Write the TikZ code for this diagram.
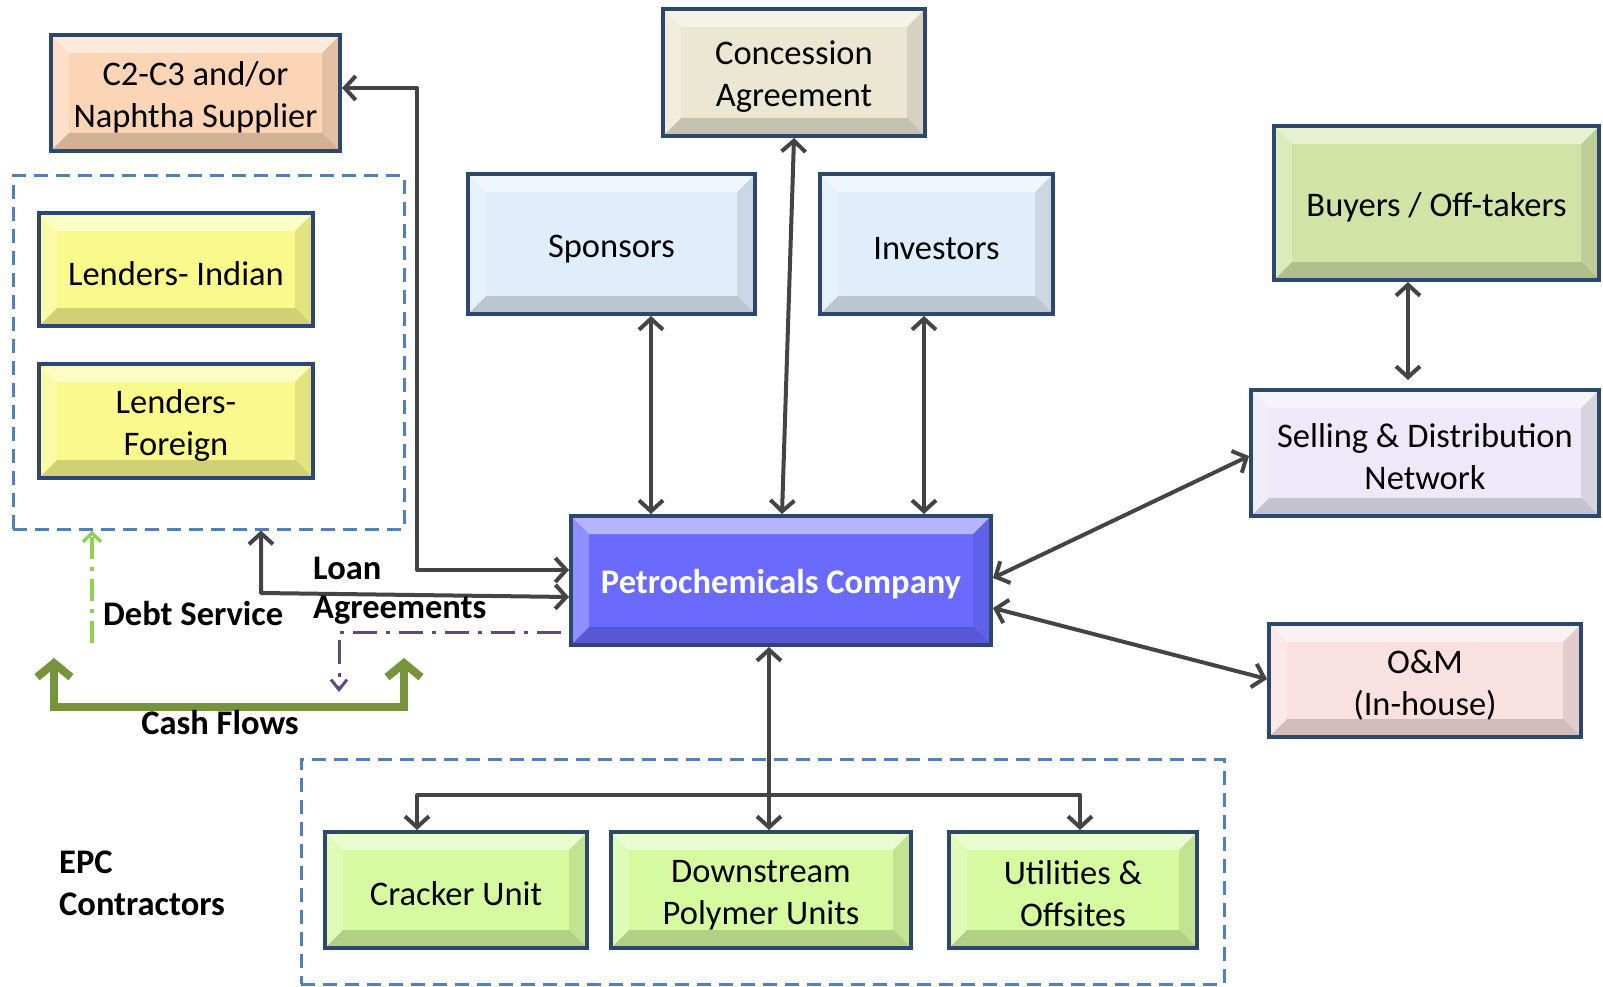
\documentclass[tikz,border=0pt]{standalone}
\usepackage{fontspec}
\setmainfont{Carlito}
\usetikzlibrary{arrows.meta,calc}
\definecolor{bord}{RGB}{44,72,108}
\definecolor{arrowgray}{RGB}{68,68,68}
\definecolor{peach}{RGB}{251,213,181}
\definecolor{tan}{RGB}{235,231,210}
\definecolor{ltblue}{RGB}{224,237,250}
\definecolor{olivelt}{RGB}{210,227,166}
\definecolor{lavender}{RGB}{237,233,248}
\definecolor{pinklt}{RGB}{250,225,225}
\definecolor{yel}{RGB}{249,249,140}
\definecolor{limegr}{RGB}{214,250,160}
\definecolor{petroblue}{RGB}{106,106,255}
\definecolor{grpblue}{RGB}{79,129,189}
\definecolor{cashgr}{RGB}{119,147,60}
\definecolor{debtgr}{RGB}{146,208,80}
\definecolor{loanpur}{RGB}{96,74,123}
\newcommand{\strt}{\rule{0pt}{32pt}}
\tikzset{
  bb/.tip={Straight Barb[length=11pt,width=24pt]},
  bevelfx/.style={path picture={
    \coordinate (pA) at (path picture bounding box.north west);
    \coordinate (pB) at (path picture bounding box.north east);
    \coordinate (pC) at (path picture bounding box.south east);
    \coordinate (pD) at (path picture bounding box.south west);
    \fill[white,opacity=.5] (pA) -- (pB) -- ([shift={(-18pt,-18pt)}]pB) -- ([shift={(18pt,-18pt)}]pA) -- cycle;
    \fill[white,opacity=.25] (pA) -- (pD) -- ([shift={(18pt,18pt)}]pD) -- ([shift={(18pt,-18pt)}]pA) -- cycle;
    \fill[black,opacity=.16] (pD) -- (pC) -- ([shift={(-18pt,18pt)}]pC) -- ([shift={(18pt,18pt)}]pD) -- cycle;
    \fill[black,opacity=.09] (pB) -- (pC) -- ([shift={(-18pt,18pt)}]pC) -- ([shift={(-18pt,-18pt)}]pB) -- cycle;
  }},
  box/.style={draw=bord, line width=4pt, rectangle, inner sep=0pt, align=center,
    font=\fontsize{34.5}{42}\selectfont, text=black, bevelfx},
  grp/.style={draw=grpblue, line width=3pt, dash pattern=on 14pt off 8pt, rectangle, inner sep=0pt},
  conn/.style={draw=arrowgray, line width=4pt, line join=round},
  lbl/.style={font=\fontsize{34.5}{42}\selectfont\bfseries, inner sep=0pt},
}
\begin{document}
\begin{tikzpicture}[x=1pt,y=-1pt]
\useasboundingbox (0,0) rectangle (1603,987);
% group boxes
\node[grp, minimum width=391pt, minimum height=353pt] (lend) at (208.5,352.5) {};
\node[grp, minimum width=923pt, minimum height=225pt] (epc) at (762.5,871.5) {};
% boxes
\node[box, fill=peach, minimum width=289pt, minimum height=116pt] (sup) at (195.5,93) {\strt C2-C3 and/or\\Naphtha Supplier};
\node[box, fill=tan, minimum width=262pt, minimum height=127pt] (conc) at (794,72.5) {\strt Concession\\Agreement};
\node[box, fill=ltblue, minimum width=287pt, minimum height=140pt] (spon) at (611.5,244) {\strt Sponsors};
\node[box, fill=ltblue, minimum width=233pt, minimum height=140pt] (inv) at (936.5,244) {\strt Investors};
\node[box, fill=olivelt, minimum width=325pt, minimum height=154pt] (buy) at (1436.5,203) {\strt Buyers / Off-takers};
\node[box, fill=lavender, minimum width=348pt, minimum height=126pt] (sell) at (1425,453) {\strt Selling \& Distribution\\Network};
\node[box, fill=pinklt, minimum width=312pt, minimum height=113pt] (om) at (1425,680.5) {\strt O\&M\\(In-house)};
\node[box, fill=yel, minimum width=274pt, minimum height=113pt] (li) at (176,269.5) {\strt Lenders- Indian};
\node[box, fill=yel, minimum width=274pt, minimum height=114pt] (lf) at (176,421) {\strt Lenders-\\Foreign};
\node[box, fill=petroblue, minimum width=420pt, minimum height=129pt, text=white, font=\fontsize{34.5}{42}\selectfont\bfseries] (petro) at (781,580.5) {\strt Petrochemicals Company};
\node[box, fill=limegr, minimum width=262pt, minimum height=116pt] (crk) at (456,890) {\strt Cracker Unit};
\node[box, fill=limegr, minimum width=300pt, minimum height=116pt] (dsp) at (761,890) {\strt Downstream\\Polymer Units};
\node[box, fill=limegr, minimum width=248pt, minimum height=116pt] (util) at (1073,890) {\strt Utilities \&\\Offsites};
% coordinates
\coordinate (cjog) at (417,570);
\coordinate (ljog) at (261,593);
\coordinate (bus) at (0,795);
\coordinate (ds) at (92,643);
\coordinate (pu) at (339,692);
\coordinate (cfa) at (54,658);
\coordinate (cfb) at (54,707);
\coordinate (cfc) at (404,707);
\coordinate (cfd) at (404,658);
% connectors
\draw[conn,bb-bb] ([yshift=5pt]sup.east) -| (cjog) -- ([yshift=10.5pt]petro.west);
\draw[conn,bb-bb] ([xshift=52.5pt]lend.south) -- (ljog) -- ([yshift=-16.5pt]petro.west);
\draw[conn,bb-bb] ([xshift=39.5pt]spon.south) -- ([xshift=39.5pt]spon.south |- petro.north);
\draw[conn,bb-bb] (conc.south) -- ([xshift=1pt]petro.north);
\draw[conn,bb-bb] ([xshift=-12.5pt]inv.south) -- ([xshift=-12.5pt]inv.south |- petro.north);
\draw[conn,bb-bb] ([yshift=2.5pt]petro.east) -- ([yshift=-3pt]sell.west);
\draw[conn,bb-bb] ([yshift=-27.5pt]petro.east) -- ([yshift=1.5pt]om.west);
\draw[conn,bb-bb,shorten >=8pt] ([xshift=-28.5pt]buy.south) -- ([xshift=-28.5pt]buy.south |- sell.north);
\draw[conn,bb-bb] ([xshift=-12pt]petro.south) -- ([xshift=-12pt]petro.south |- dsp.north);
\draw[conn,bb-bb] ([xshift=-39pt]crk.north) -- ([xshift=-39pt]crk.north |- bus) -- ([xshift=7pt]util.north |- bus) -- ([xshift=7pt]util.north);
% debt service
\draw[draw=debtgr, line width=3.5pt, dash pattern=on 22pt off 8pt on 4pt off 8pt, -{Straight Barb[length=9pt,width=18pt]}] (ds) -- (ds |- lend.south);
% loan dash-dot
\draw[draw=loanpur, line width=3pt, dash pattern=on 24pt off 9pt on 4pt off 9pt, -{Straight Barb[length=10pt,width=16pt]}] ([yshift=-51.5pt,xshift=-8pt]petro.west) -| (pu);
% cash flows
\draw[draw=cashgr, line width=8pt, {Straight Barb[length=14pt,width=34pt]}-{Straight Barb[length=14pt,width=34pt]}] (cfa) -- (cfb) -- (cfc) -- (cfd);
% labels
\node[lbl, anchor=west] (loan) at (313,568) {Loan};
\node[lbl, anchor=west] (agr) at (313,610) {Agreements};
\node[lbl, anchor=west] (debt) at (103,614) {Debt Service};
\node[lbl] (cash) at (220,723) {Cash Flows};
\node[lbl, anchor=west, align=left] (epclbl) at (59,883) {EPC\\Contractors};
\end{tikzpicture}
\end{document}
